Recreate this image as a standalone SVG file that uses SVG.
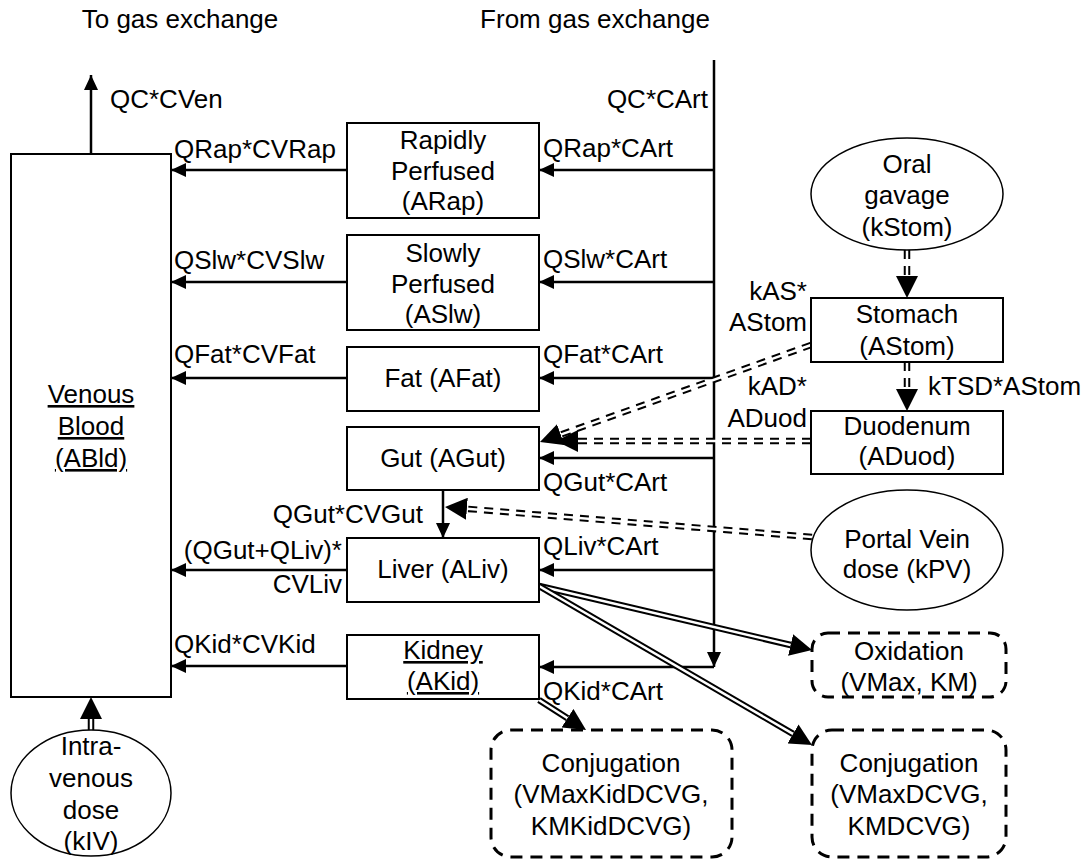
<svg xmlns="http://www.w3.org/2000/svg" width="1086" height="860" viewBox="0 0 1086 860">
<style>
text{font-family:"Liberation Sans",Arial,Helvetica,sans-serif;font-size:26px;fill:#000}
.c{text-anchor:middle}.r{text-anchor:end}
.u{text-decoration:underline}
.box{fill:#fff;stroke:#000;stroke-width:2}
.ell{fill:#fff;stroke:#000;stroke-width:1.5}
.dbox{fill:#fff;stroke:#000;stroke-width:3;stroke-dasharray:12 8}
.flow{fill:none;stroke:#000;stroke-width:2.5;marker-end:url(#ah)}
.dblo{fill:none;stroke:#000;stroke-width:6.5}
.dbli{fill:none;stroke:#fff;stroke-width:2.5;marker-end:url(#bh)}
.dsh{stroke-dasharray:9 7}
</style>
<defs>
<marker id="ah" markerUnits="userSpaceOnUse" viewBox="0 0 15 14" markerWidth="15" markerHeight="14" refX="15" refY="7" orient="auto"><path d="M0,0L15,7L0,14z" fill="#000"/></marker>
<marker id="bh" markerUnits="userSpaceOnUse" viewBox="0 -11 22 22" markerWidth="22" markerHeight="22" refX="0" refY="0" orient="auto"><path d="M0,-11L22,0L0,11z" fill="#000"/></marker>
</defs>
<text class="c" x="180" y="28">To gas exchange</text>
<text class="c" x="595" y="28">From gas exchange</text>
<g id="connectors">
<path class="flow" d="M91,154L91,75"/>
<path class="flow" d="M714,60L714,667"/>
<path class="flow" d="M714,170L539,170"/>
<path class="flow" d="M714,282L539,282"/>
<path class="flow" d="M714,378L539,378"/>
<path class="flow" d="M714,458L539,458"/>
<path class="flow" d="M714,570L539,570"/>
<path class="flow" d="M714,667L539,667"/>
<path class="flow" d="M347,170L171,170"/>
<path class="flow" d="M347,282L171,282"/>
<path class="flow" d="M347,378L171,378"/>
<path class="flow" d="M347,570L171,570"/>
<path class="flow" d="M347,666L171,666"/>
<path class="flow" d="M443,490L443,538"/>
<path class="dblo dsh" d="M907,250L907,276"/><path class="dbli" d="M907,250L907,276"/>
<path class="dblo dsh" d="M907,362L907,389"/><path class="dbli" d="M907,362L907,389"/>
<path class="dblo dsh" d="M811,345L560.7,434.6"/><path class="dbli" d="M811,345L560.7,434.6"/>
<path class="dblo dsh" d="M811,441L578,441"/><path class="dbli" d="M811,441L578,441"/>
<path class="dblo dsh" d="M812,537L466.9,508.8"/><path class="dbli" d="M812,537L466.9,508.8"/>
<path class="dblo" d="M539,586L790.6,645"/><path class="dbli" d="M539,586L790.6,645"/>
<path class="dblo" d="M539,586L793,733.9"/><path class="dbli" d="M539,586L793,733.9"/>
<path class="dblo" d="M539,700L567.5,718.2"/><path class="dbli" d="M539,700L567.5,718.2"/>
<path class="dblo" d="M91,730L91,719"/><path class="dbli" d="M91,730L91,719"/>
<text x="110" y="108">QC*CVen</text>
<text class="r" x="708" y="108">QC*CArt</text>
<text x="174" y="158">QRap*CVRap</text>
<text x="543" y="157">QRap*CArt</text>
<text x="174" y="269">QSlw*CVSlw</text>
<text x="543" y="268">QSlw*CArt</text>
<text x="174" y="363">QFat*CVFat</text>
<text x="543" y="363">QFat*CArt</text>
<text x="543" y="491">QGut*CArt</text>
<text class="r" x="423" y="523">QGut*CVGut</text>
<text class="r" x="342" y="559">(QGut+QLiv)*</text>
<text class="r" x="342" y="593">CVLiv</text>
<text x="543" y="555">QLiv*CArt</text>
<text x="174" y="653">QKid*CVKid</text>
<text x="543" y="700">QKid*CArt</text>
<text class="r" x="807" y="300">kAS*</text>
<text class="r" x="807" y="331">AStom</text>
<text class="r" x="807" y="395">kAD*</text>
<text class="r" x="807" y="427">ADuod</text>
<text x="928" y="395">kTSD*AStom</text>
</g>
<g id="venous"><rect class="box" x="11" y="154" width="160" height="543"/>
<text class="c u" x="91" y="403">Venous</text><text class="c u" x="91" y="435">Blood</text><text class="c u" x="91" y="467">(ABld)</text></g>
<g id="rapid"><rect class="box" x="347" y="123" width="192" height="95"/>
<text class="c" x="443" y="149">Rapidly</text><text class="c" x="443" y="180">Perfused</text><text class="c" x="443" y="210">(ARap)</text></g>
<g id="slow"><rect class="box" x="347" y="235" width="192" height="95"/>
<text class="c" x="443" y="262">Slowly</text><text class="c" x="443" y="293">Perfused</text><text class="c" x="443" y="323">(ASlw)</text></g>
<g id="fat"><rect class="box" x="347" y="347" width="192" height="64"/>
<text class="c" x="443" y="387">Fat (AFat)</text></g>
<g id="gut"><rect class="box" x="347" y="427" width="192" height="63"/>
<text class="c" x="443" y="467">Gut (AGut)</text></g>
<g id="liver"><rect class="box" x="347" y="538" width="192" height="64"/>
<text class="c" x="443" y="578">Liver (ALiv)</text></g>
<g id="kidney"><rect class="box" x="347" y="635" width="192" height="64"/>
<text class="c u" x="443" y="659">Kidney</text><text class="c u" x="443" y="690">(AKid)</text></g>
<g id="oral"><ellipse class="ell" cx="907" cy="194" rx="96" ry="56"/>
<text class="c" x="907" y="173">Oral</text><text class="c" x="907" y="204">gavage</text><text class="c" x="907" y="236">(kStom)</text></g>
<g id="stomach"><rect class="box" x="811" y="298" width="192" height="64"/>
<text class="c" x="907" y="323">Stomach</text><text class="c" x="907" y="355">(AStom)</text></g>
<g id="duodenum"><rect class="box" x="811" y="411" width="192" height="63"/>
<text class="c" x="907" y="435">Duodenum</text><text class="c" x="907" y="465">(ADuod)</text></g>
<g id="portal"><ellipse class="ell" cx="907" cy="550" rx="96" ry="60"/>
<text class="c" x="907" y="548">Portal Vein</text><text class="c" x="907" y="578">dose (kPV)</text></g>
<g id="oxidation"><rect class="dbox" x="812" y="633" width="194" height="64" rx="16"/>
<text class="c" x="909" y="660">Oxidation</text><text class="c" x="909" y="691">(VMax, KM)</text></g>
<g id="conjkid"><rect class="dbox" x="491" y="730" width="241" height="127" rx="20"/>
<text class="c" x="611" y="772">Conjugation</text><text class="c" x="611" y="803">(VMaxKidDCVG,</text><text class="c" x="611" y="835">KMKidDCVG)</text></g>
<g id="conjliv"><rect class="dbox" x="812" y="730" width="194" height="127" rx="20"/>
<text class="c" x="909" y="772">Conjugation</text><text class="c" x="909" y="803">(VMaxDCVG,</text><text class="c" x="909" y="835">KMDCVG)</text></g>
<g id="iv"><ellipse class="ell" cx="91" cy="793" rx="80" ry="63"/>
<text class="c" x="91" y="755">Intra-</text><text class="c" x="91" y="787">venous</text><text class="c" x="91" y="819">dose</text><text class="c" x="91" y="850">(kIV)</text></g>
</svg>
